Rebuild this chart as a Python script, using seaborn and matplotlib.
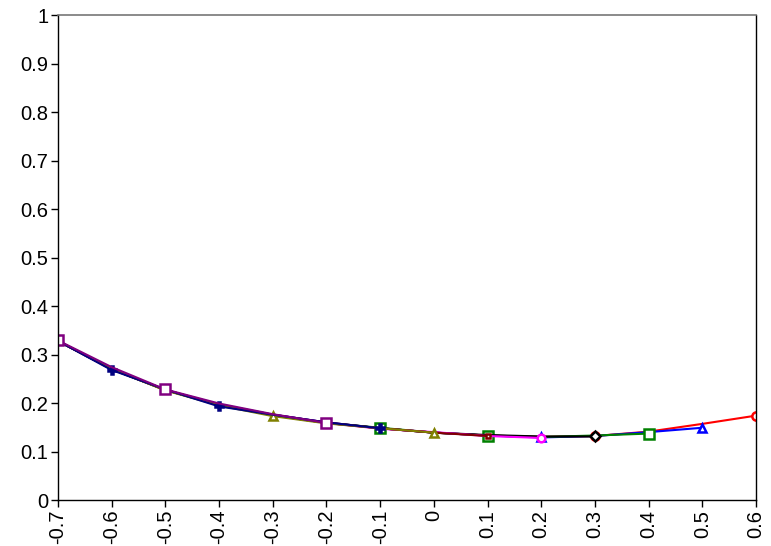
import numpy as np
import pandas as pd
import seaborn as sns
import matplotlib.pyplot as plt

x_all = [-0.7, -0.6, -0.5, -0.4, -0.3, -0.2, -0.1, 0.0, 0.1, 0.2, 0.3, 0.4, 0.5, 0.6]

red_vals = [0.328, 0.270, 0.227, 0.197, 0.176, 0.160, 0.148, 0.139, 0.133, 0.130, 0.132, 0.141, 0.157, 0.174]
blue_vals = [0.328, 0.270, 0.227, 0.197, 0.176, 0.160, 0.148, 0.139, 0.133, 0.129, 0.132, 0.140, 0.149]
green_vals = [0.328, 0.270, 0.227, 0.196, 0.175, 0.159, 0.149, 0.139, 0.133, 0.130, 0.133, 0.137]
black_vals = [0.328, 0.270, 0.227, 0.196, 0.175, 0.159, 0.148, 0.139, 0.134, 0.131, 0.131]
magenta_vals = [0.328, 0.270, 0.227, 0.197, 0.175, 0.159, 0.147, 0.140, 0.132, 0.128]
maroon_vals = [0.328, 0.270, 0.227, 0.196, 0.175, 0.159, 0.148, 0.139, 0.132]
olive_vals = [0.328, 0.270, 0.226, 0.195, 0.173, 0.158, 0.148, 0.139]
navy_vals = [0.328, 0.268, 0.228, 0.193, 0.176, 0.160, 0.148]
purple_vals = [0.329, 0.274, 0.228, 0.199, 0.177, 0.159]

# (values, colour, marker, marker size, filled, x positions that get a marker)
series = [
    (red_vals, 'red', 'o', 6, False, [0.3, 0.6]),
    (blue_vals, 'blue', '^', 6, False, [0.2, 0.5]),
    (green_vals, 'green', 's', 6.5, False, [-0.1, 0.1, 0.4]),
    (black_vals, 'black', 'D', 5, False, [0.3]),
    (magenta_vals, 'magenta', 'o', 5.5, False, [0.2]),
    (maroon_vals, 'maroon', 's', 3.5, False, [0.1]),
    (olive_vals, 'olive', '^', 6, False, [-0.3, 0.0]),
    (navy_vals, 'navy', 'P', 6, True, [-0.6, -0.4, -0.1]),
    (purple_vals, 'purple', 's', 6.5, False, [-0.7, -0.5, -0.2]),
]

sns.set_style('white')
plt.rcParams['font.family'] = ['Liberation Sans', 'DejaVu Sans']

fig = plt.figure(figsize=(7.71, 5.46), dpi=100)
ax = fig.add_axes([0.0752, 0.0842, 0.9053, 0.8883])

for vals, col, mk, ms, filled, mark_x in series:
    xs = x_all[:len(vals)]
    idx = [i for i, xv in enumerate(xs) if any(abs(xv - m) < 1e-9 for m in mark_x)]
    df = pd.DataFrame({'x': xs, 'y': vals})
    sns.lineplot(data=df, x='x', y='y', ax=ax, color=col, linewidth=1.5,
                 marker=mk, markevery=idx, markersize=ms,
                 markerfacecolor=col if filled else 'white',
                 markeredgecolor=col, markeredgewidth=1.8)

ax.set_xlim(-0.7, 0.6)
ax.set_ylim(0, 1)
ax.set_xticks(x_all)
ax.set_xticklabels(['%g' % v for v in x_all], rotation=90)
ax.set_yticks(np.arange(0, 11) / 10)
ax.set_yticklabels(['0', '0.1', '0.2', '0.3', '0.4', '0.5', '0.6', '0.7', '0.8', '0.9', '1'])
ax.set_xlabel('')
ax.set_ylabel('')
ax.tick_params(axis='both', direction='out', length=5, width=1, labelsize=14.5,
               bottom=True, left=True, colors='black', pad=2)
for s in ['left', 'bottom', 'right']:
    ax.spines[s].set_color('black')
    ax.spines[s].set_linewidth(1)
ax.spines['top'].set_color('#777777')
ax.spines['top'].set_linewidth(1.2)

fig.savefig('out.png', dpi=100)
